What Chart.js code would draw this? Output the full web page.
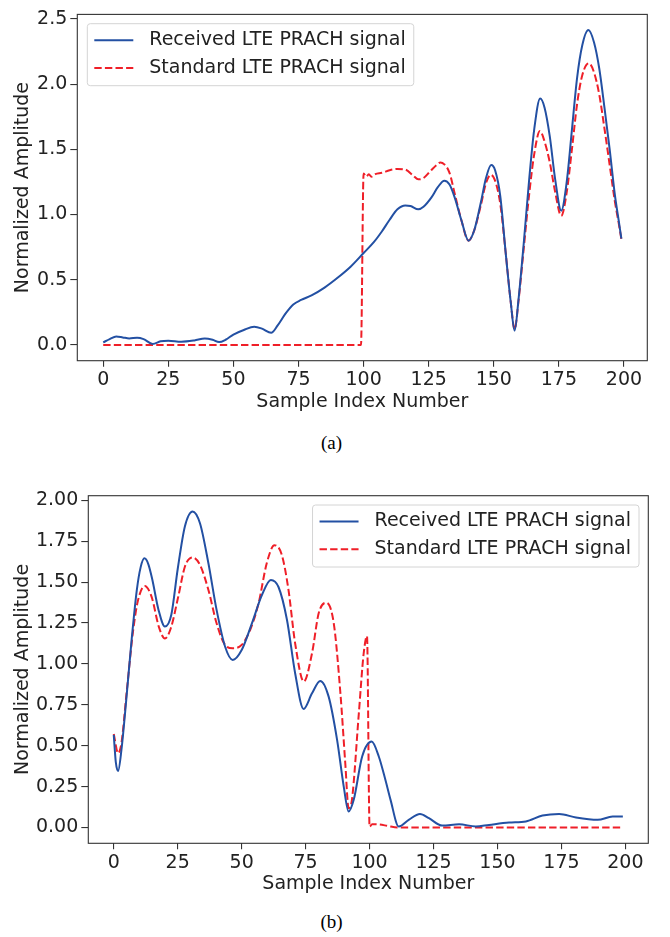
<!DOCTYPE html>
<html>
<head>
<meta charset="utf-8">
<script src="https://cdn.jsdelivr.net/npm/chart.js@4.4.0/dist/chart.umd.min.js"></script>
<style>
  html, body { margin: 0; padding: 0; background: #fff; }
  body { width: 670px; height: 937px; position: relative; overflow: hidden; }
  .plot { position: absolute; left: 0; width: 670px; height: 420px; }
  .caption { position: absolute; left: 0; width: 663px; text-align: center;
             font-family: 'Liberation Serif', 'Times New Roman', serif; font-size: 19px; line-height: 19px; color: #000; }
</style>
</head>
<body>
<div class="plot" style="top:0px"><canvas id="chartA" width="670" height="420"></canvas></div>
<div class="caption" style="top:433px">(a)</div>
<div class="plot" style="top:480px"><canvas id="chartB" width="670" height="420"></canvas></div>
<div class="caption" style="top:912px">(b)</div>
<script>
// ---- data ----
const xTicks = [0, 25, 50, 75, 100, 125, 150, 175, 200];

// (a)
const aReceivedIdx = [0, 2.5, 5, 7.5, 10, 13, 15.5, 19, 22, 25, 30, 35, 39, 42, 44.5, 47, 50, 54, 58, 61, 64.5, 67, 70, 73, 76, 80, 85, 90, 95, 100,
  104, 107, 110, 113, 116, 118, 121, 123, 126, 128.5, 131, 133, 135, 137.5, 140.3, 142.5, 145, 147, 149, 150.5, 152.5, 154.5, 156.5, 158,
  159.5, 161.5, 163.5, 165.5, 167.8, 169.5, 171.5, 173.5, 175.9, 178, 180, 182, 184, 186.3, 188.5, 190.5, 192.5, 194.5, 196.5, 198, 199];
const aReceived = [0.02, 0.045, 0.065, 0.058, 0.05, 0.055, 0.045, 0.008, 0.028, 0.033, 0.025, 0.035, 0.05, 0.04, 0.022, 0.04, 0.08, 0.115, 0.14, 0.125, 0.093, 0.15, 0.24, 0.31, 0.345, 0.38, 0.44, 0.515, 0.6, 0.705,
  0.79, 0.87, 0.96, 1.04, 1.07, 1.065, 1.04, 1.06, 1.13, 1.21, 1.26, 1.23, 1.13, 0.96, 0.8, 0.88, 1.09, 1.28, 1.38, 1.34, 1.14, 0.72, 0.33, 0.11,
  0.35, 0.78, 1.25, 1.65, 1.89, 1.82, 1.6, 1.28, 1.03, 1.25, 1.65, 2.05, 2.3, 2.415, 2.32, 2.12, 1.82, 1.5, 1.15, 0.95, 0.815];

const aStandardIdx = [0, 99, 100, 101, 102, 103, 104.5, 107, 110, 113, 116, 119, 121, 123, 125.5, 128, 129.5, 131, 133, 135, 137.5, 140.3, 142.5, 145, 147, 148.8, 150.5, 152.5, 154.5, 156.5, 158,
  159.5, 161.5, 163.5, 165.5, 167.7, 169.5, 171.5, 173.5, 175.9, 178, 180, 182, 184, 186.5, 188.5, 190.5, 192.5, 194.5, 196.5, 198, 199];
const aStandard = [0, 0, 1.315, 1.29, 1.31, 1.29, 1.31, 1.32, 1.34, 1.35, 1.345, 1.3, 1.27, 1.28, 1.33, 1.38, 1.4, 1.385, 1.32, 1.16, 0.96, 0.8, 0.88, 1.07, 1.24, 1.305, 1.26, 1.08, 0.72, 0.33, 0.12,
  0.34, 0.74, 1.14, 1.46, 1.64, 1.56, 1.4, 1.18, 0.99, 1.17, 1.5, 1.85, 2.07, 2.16, 2.09, 1.92, 1.66, 1.38, 1.1, 0.93, 0.81];

const aYTicks = [0, 0.5, 1, 1.5, 2, 2.5];
const aYTickLabels = ['0.0', '0.5', '1.0', '1.5', '2.0', '2.5'];

// (b)
const bReceivedIdx = [0, 0.8, 1.7, 3, 5, 7, 9, 10.5, 12, 13.5, 15, 17.5, 20, 22.5, 25, 27.8, 30.8, 33.7, 37, 40.2, 43.5, 46.5, 50, 54, 57.9, 61.4, 64.4, 67.7,
  70.9, 74.2, 77.5, 80.7, 84, 87.3, 89.9, 91.8, 93.8, 97.1, 100.8, 103.6, 106.2, 108.2, 111.4, 115.3, 119.7, 123.2, 128.4, 135, 141.5, 146.7, 154.5,
  161.1, 167.6, 174.1, 180.7, 189.2, 195, 199];
const bReceived = [0.566, 0.4, 0.346, 0.474, 0.8, 1.15, 1.45, 1.59, 1.645, 1.61, 1.52, 1.33, 1.228, 1.3, 1.58, 1.84, 1.932, 1.86, 1.615, 1.33, 1.106, 1.024, 1.085, 1.248, 1.42, 1.513, 1.47, 1.27,
  0.943, 0.725, 0.82, 0.896, 0.8, 0.536, 0.25, 0.098, 0.169, 0.434, 0.525, 0.434, 0.29, 0.169, 0.006, 0.047, 0.083, 0.057, 0.012, 0.02, 0.006, 0.016, 0.03,
  0.037, 0.073, 0.083, 0.061, 0.047, 0.067, 0.067];

const bStandardIdx = [0, 1.7, 3, 5, 7.6, 9.5, 12.1, 14.8, 17.6, 20, 22.3, 25.2, 27.8, 30.8, 33.7, 37, 40.2, 43.5, 46.5, 50, 53.3, 56.6, 59.8, 62.8, 65.7, 68.3,
  70.9, 74.3, 77.5, 80.1, 83, 86, 88.6, 90.5, 91.8, 93.1, 95.8, 97.7, 99, 100, 101, 104, 107, 111, 199];
const bStandard = [0.572, 0.454, 0.515, 0.82, 1.207, 1.39, 1.476, 1.41, 1.228, 1.155, 1.218, 1.41, 1.594, 1.651, 1.605, 1.452, 1.248, 1.116, 1.095, 1.116, 1.207, 1.37, 1.615, 1.725, 1.666, 1.452,
  1.126, 0.892, 1.065, 1.309, 1.374, 1.248, 0.82, 0.393, 0.118, 0.169, 0.698, 1.065, 1.17, 0.005, 0.02, 0.018, 0.01, 0, 0];

const bYTicks = [0, 0.25, 0.5, 0.75, 1, 1.25, 1.5, 1.75, 2];
const bYTickLabels = ['0.00', '0.25', '0.50', '0.75', '1.00', '1.25', '1.50', '1.75', '2.00'];

const seriesNames = ['Received LTE PRACH signal', 'Standard LTE PRACH signal'];
const blue = '#2350a3';
const red = '#ef1f28';

// ---- helpers ----
const font = { family: 'DejaVu Sans', size: 19 };
const ink = '#222';

const toPoints = (xs, ys) => xs.map((x, i) => ({ x: x, y: ys[i] }));

const framePlugin = {
  id: 'frame',
  afterDatasetsDraw(chart) {
    const { ctx, chartArea: a } = chart;
    ctx.save();
    ctx.strokeStyle = '#333';
    ctx.lineWidth = 1.1;
    ctx.strokeRect(a.left, a.top, a.right - a.left, a.bottom - a.top);
    ctx.restore();
  }
};

const boxLegend = {
  id: 'boxLegend',
  afterDraw(chart, args, opts) {
    const { ctx, chartArea: a } = chart;
    ctx.save();
    ctx.font = '19px "DejaVu Sans"';
    const sets = chart.data.datasets;
    const tw = Math.max(...sets.map(d => ctx.measureText(d.label).width));
    const w = 62 + tw + 8, h = 62;
    const x = opts.corner === 'right' ? a.right - 9.3 - w : a.left + 10;
    const y = a.top + 9.3;
    ctx.beginPath();
    ctx.roundRect(x, y, w, h, 3);
    ctx.fillStyle = 'rgba(255,255,255,0.8)';
    ctx.fill();
    ctx.strokeStyle = '#d4d4d4';
    ctx.lineWidth = 1;
    ctx.stroke();
    sets.forEach((d, i) => {
      const cy = y + 16.5 + i * 27.7;
      ctx.beginPath();
      ctx.setLineDash(d.borderDash || []);
      ctx.strokeStyle = d.borderColor;
      ctx.lineWidth = d.borderWidth;
      ctx.moveTo(x + 7, cy);
      ctx.lineTo(x + 46, cy);
      ctx.stroke();
      ctx.setLineDash([]);
      ctx.fillStyle = ink;
      ctx.textBaseline = 'middle';
      ctx.fillText(d.label, x + 62, cy);
    });
    ctx.restore();
  }
};

function makeChart(id, c) {
  const H = 420;
  return new Chart(document.getElementById(id), {
    type: 'line',
    data: {
      datasets: [
        { label: seriesNames[0], data: toPoints(c.recIdx, c.rec), borderColor: blue, borderWidth: 2, pointRadius: 0,
          tension: 0.4, cubicInterpolationMode: 'monotone' },
        { label: seriesNames[1], data: toPoints(c.stdIdx, c.std), borderColor: red, borderWidth: 2, borderDash: [7.4, 3.2],
          pointRadius: 0, tension: 0.4, cubicInterpolationMode: 'monotone' }
      ]
    },
    options: {
      responsive: false,
      animation: false,
      layout: { padding: { top: c.top, right: 670 - c.right, left: 0, bottom: 0 } },
      plugins: { legend: { display: false }, tooltip: { enabled: false }, boxLegend: { corner: c.corner } },
      scales: {
        x: {
          type: 'linear', min: -9.95, max: 208.95,
          afterBuildTicks: s => { s.ticks = xTicks.map(v => ({ value: v })); },
          afterFit: s => { s.height = H - c.bottom; },
          grid: { drawOnChartArea: false, drawTicks: true, tickLength: 6, color: '#333', lineWidth: 1.1 },
          border: { display: false },
          ticks: { font: font, color: ink, padding: 2, maxRotation: 0, autoSkip: false, callback: v => String(v) },
          title: { display: true, text: 'Sample Index Number', font: font, color: ink, padding: { top: 0, bottom: c.xTitlePad } }
        },
        y: {
          type: 'linear', min: c.yMin, max: c.yMax,
          afterBuildTicks: s => { s.ticks = c.yTicks.map(v => ({ value: v })); },
          afterFit: s => { s.width = c.left; },
          grid: { drawOnChartArea: false, drawTicks: true, tickLength: 7, color: '#333', lineWidth: 1.1 },
          border: { display: false },
          ticks: { font: font, color: ink, padding: 3, autoSkip: false,
                   callback: (v, i) => c.yLabels[i] },
          title: { display: true, text: 'Normalized Amplitude', font: font, color: ink, padding: { top: 11.5, bottom: 0 } }
        }
      }
    },
    plugins: [framePlugin, boxLegend]
  });
}

makeChart('chartA', {
  recIdx: aReceivedIdx, rec: aReceived, stdIdx: aStandardIdx, std: aStandard,
  yTicks: aYTicks, yLabels: aYTickLabels, yMin: -0.1207, yMax: 2.535,
  left: 77.3, right: 647.3, top: 6.7, bottom: 360.7, xTitlePad: 7, corner: 'left'
});

makeChart('chartB', {
  recIdx: bReceivedIdx, rec: bReceived, stdIdx: bStandardIdx, std: bStandard,
  yTicks: bYTicks, yLabels: bYTickLabels, yMin: -0.0965, yMax: 2.028,
  left: 88.3, right: 648.3, top: 15.7, bottom: 363.3, xTitlePad: 5, corner: 'right'
});
</script>
</body>
</html>
